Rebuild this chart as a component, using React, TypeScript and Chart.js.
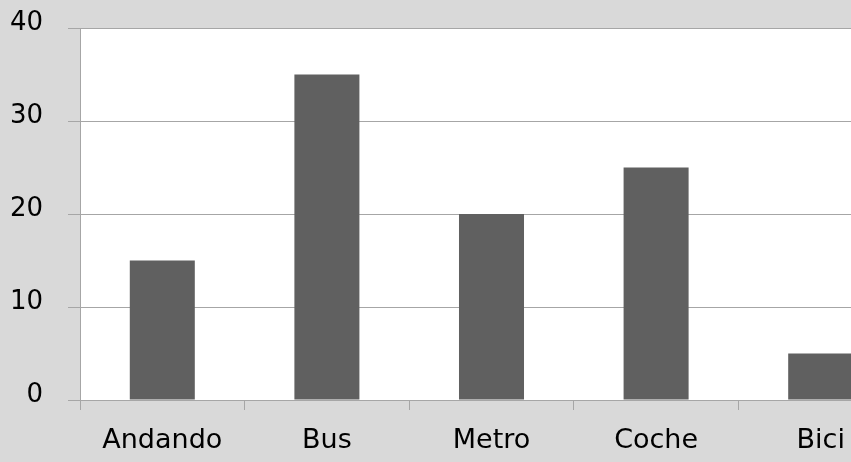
import React, { useEffect, useRef } from "react";
import { Chart, registerables } from "chart.js";

Chart.register(...registerables);

const categories = ["Andando", "Bus", "Metro", "Coche", "Bici"];
const values = [15, 35, 20, 25, 5];
const yTicks = [0, 10, 20, 30, 40];

const plotBg = {
  id: "plotBg",
  beforeDraw(chart: any) {
    const { ctx, chartArea } = chart;
    ctx.save();
    ctx.fillStyle = "#ffffff";
    ctx.fillRect(chartArea.left, chartArea.top, chartArea.right - chartArea.left, chartArea.bottom - chartArea.top);
    ctx.restore();
  },
};

export default function App() {
  const ref = useRef<HTMLCanvasElement>(null);
  useEffect(() => {
    if (!ref.current) return;
    const font = "'DejaVu Sans', sans-serif";
    const chart = new Chart(ref.current, {
      type: "bar",
      data: {
        labels: categories,
        datasets: [
          {
            data: values,
            backgroundColor: "#606060",
            borderWidth: 0,
            barPercentage: 0.395,
            categoryPercentage: 1,
          },
        ],
      },
      options: {
        animation: false,
        responsive: false,
        devicePixelRatio: 1,
        layout: { padding: { top: 28, left: 0, right: 0, bottom: 0 } },
        plugins: { legend: { display: false }, tooltip: { enabled: false } },
        scales: {
          x: {
            afterFit: (s: any) => {
              s.height = 62;
              s.paddingLeft = 0;
              s.paddingRight = 0;
            },
            grid: {
              offset: true,
              drawOnChartArea: false,
              drawTicks: true,
              tickLength: 10,
              color: "#a6a6a6",
              tickColor: "#a6a6a6",
            },
            border: { display: true, color: "#a6a6a6" },
            ticks: {
              color: "#000",
              padding: 15,
              maxRotation: 0,
              autoSkip: false,
              font: { family: font, size: 27 },
            },
          },
          y: {
            min: yTicks[0],
            max: yTicks[yTicks.length - 1],
            afterFit: (s: any) => {
              s.width = 80;
              s.paddingTop = 0;
              s.paddingBottom = 0;
            },
            afterBuildTicks: (s: any) => {
              s.ticks = yTicks.map((v) => ({ value: v }));
            },
            grid: {
              color: "#a6a6a6",
              tickColor: "#a6a6a6",
              tickLength: 12,
            },
            border: { display: true, color: "#a6a6a6" },
            ticks: {
              color: "#000",
              padding: 25,
              callback: (v: any) => [String(v), ""],
              font: { family: font, size: 26, lineHeight: "9px" },
            },
          },
        },
      },
      plugins: [plotBg],
    });
    return () => chart.destroy();
  }, []);
  return (
    <div
      style={{
        position: "absolute",
        left: 0,
        top: 0,
        width: 851,
        height: 462,
        overflow: "hidden",
        background: "#d9d9d9",
      }}
    >
      <canvas ref={ref} width={903} height={462} style={{ display: "block", width: 903, height: 462 }} />
    </div>
  );
}
